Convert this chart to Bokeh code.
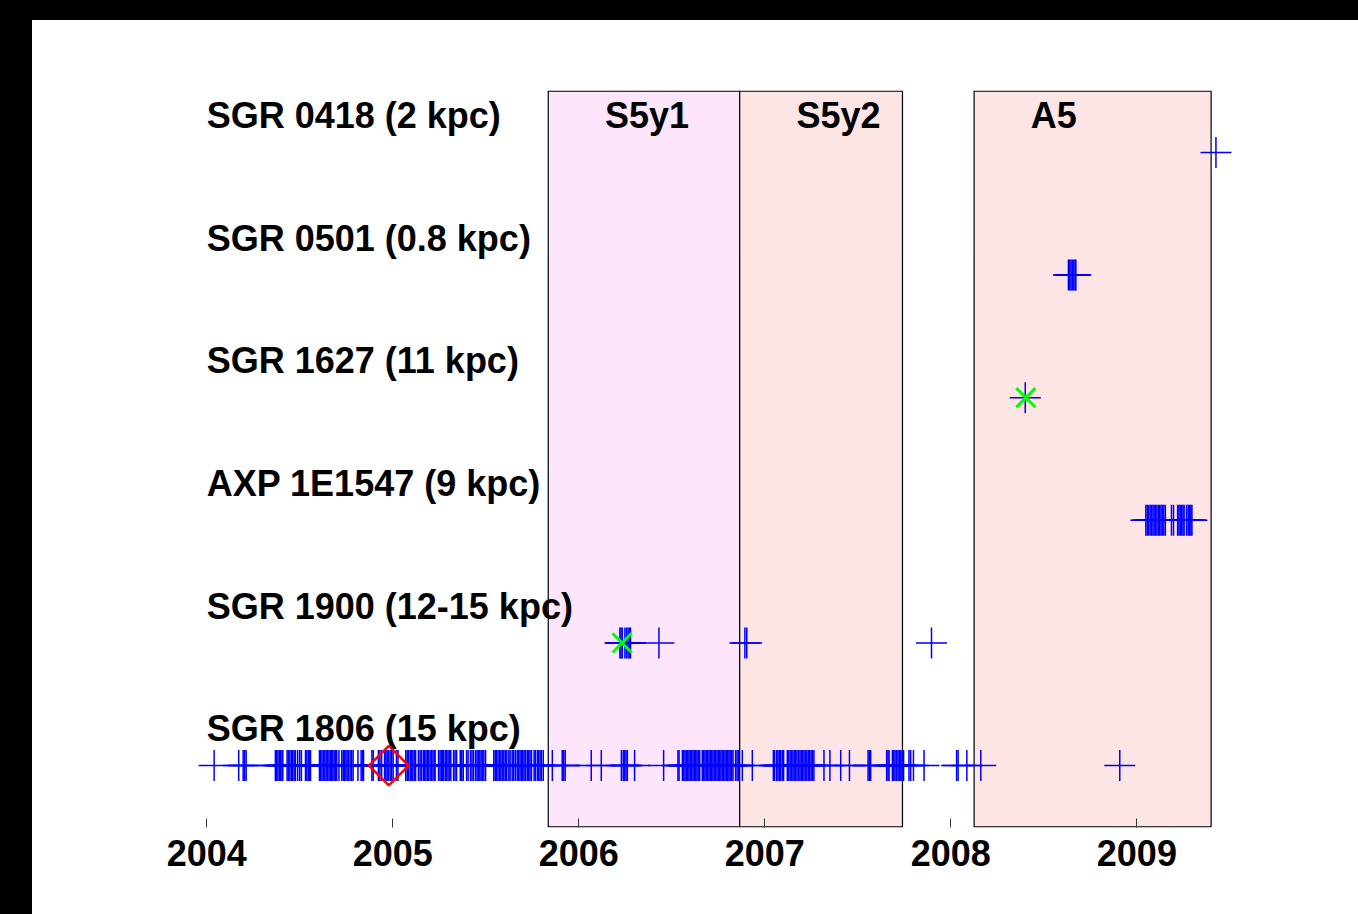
import numpy as np
from bokeh.plotting import figure
from bokeh.models import Range1d, FixedTicker, Div
from bokeh.layouts import column, row
from bokeh.core.properties import value
from bokeh.embed import file_html
from bokeh.resources import INLINE

# ---------------- data ----------------
source_labels = ["SGR 0418 (2 kpc)", "SGR 0501 (0.8 kpc)", "SGR 1627 (11 kpc)",
                 "AXP 1E1547 (9 kpc)", "SGR 1900 (12-15 kpc)", "SGR 1806 (15 kpc)"]
source_rows = [6, 5, 4, 3, 2, 1]

sgr0418_bursts = [2009.425]

sgr0501_bursts = [2008.632, 2008.639, 2008.646, 2008.653, 2008.661, 2008.668, 2008.672]

sgr1627_bursts = [2008.400]

axp1547_bursts = [2009.048, 2009.056, 2009.063, 2009.071, 2009.078, 2009.086, 2009.093,
                  2009.101, 2009.108, 2009.116, 2009.123, 2009.130, 2009.138, 2009.145,
                  2009.153, 2009.186, 2009.197, 2009.219, 2009.226, 2009.233, 2009.241,
                  2009.248, 2009.254, 2009.267, 2009.276, 2009.283, 2009.290, 2009.296]

sgr1900_bursts = [2006.221, 2006.227, 2006.234, 2006.248, 2006.257, 2006.265, 2006.273,
                  2006.278, 2006.431, 2006.893, 2006.903, 2007.896]

sgr1806_bursts = [
    2004.040, 2004.172, 2004.196, 2004.204, 2004.212,
    2004.369, 2004.376, 2004.383, 2004.391, 2004.398, 2004.405, 2004.409,
    2004.432, 2004.439, 2004.447, 2004.455, 2004.462, 2004.470, 2004.477,
    2004.489, 2004.500, 2004.509,
    2004.531, 2004.538, 2004.546, 2004.553, 2004.558,
    2004.606, 2004.613, 2004.620, 2004.628, 2004.635, 2004.642, 2004.649, 2004.657,
    2004.664, 2004.671, 2004.678, 2004.685, 2004.692, 2004.699, 2004.711,
    2004.726, 2004.734, 2004.741, 2004.748, 2004.755, 2004.762,
    2004.771, 2004.779, 2004.787, 2004.813, 2004.830, 2004.837, 2004.843,
    2004.888, 2004.895, 2004.923, 2004.931, 2004.940,
    2004.956, 2004.963, 2004.970, 2004.977, 2004.986, 2004.994, 2005.002,
    2005.020, 2005.028,
    2005.070, 2005.078, 2005.085, 2005.094, 2005.101, 2005.108, 2005.116, 2005.123,
    2005.138, 2005.147, 2005.155,
    2005.165, 2005.172, 2005.179, 2005.187, 2005.192,
    2005.201, 2005.208, 2005.216, 2005.223, 2005.228,
    2005.246, 2005.254, 2005.261, 2005.269, 2005.273,
    2005.282, 2005.289, 2005.297, 2005.304, 2005.312,
    2005.327, 2005.335, 2005.343, 2005.363, 2005.371, 2005.379,
    2005.397, 2005.405, 2005.418, 2005.426, 2005.434,
    2005.445, 2005.453, 2005.460, 2005.468, 2005.475, 2005.483, 2005.490, 2005.499,
    2005.543, 2005.551, 2005.558, 2005.566, 2005.574, 2005.581, 2005.589,
    2005.597, 2005.605, 2005.613, 2005.624, 2005.631,
    2005.642, 2005.650, 2005.659,
    2005.669, 2005.676, 2005.684, 2005.691, 2005.699, 2005.706, 2005.714,
    2005.723, 2005.731, 2005.738, 2005.746, 2005.760, 2005.766,
    2005.777, 2005.784, 2005.792, 2005.799, 2005.809,
    2005.858, 2005.911, 2005.919, 2005.927,
    2006.067, 2006.121, 2006.229, 2006.239, 2006.246, 2006.254, 2006.261, 2006.300,
    2006.456, 2006.533, 2006.539,
    2006.557, 2006.564, 2006.571, 2006.578, 2006.585, 2006.592, 2006.599, 2006.607,
    2006.614, 2006.621, 2006.628, 2006.635, 2006.642, 2006.650,
    2006.664, 2006.671, 2006.678, 2006.685, 2006.693, 2006.700, 2006.707, 2006.714,
    2006.721, 2006.728, 2006.736, 2006.743, 2006.750, 2006.757, 2006.764, 2006.771,
    2006.779, 2006.786, 2006.793, 2006.800, 2006.807, 2006.814, 2006.822, 2006.829,
    2006.843, 2006.851, 2006.859, 2006.879, 2006.933,
    2007.046, 2007.053, 2007.064, 2007.071, 2007.079, 2007.085, 2007.094, 2007.101,
    2007.121, 2007.128, 2007.136, 2007.143, 2007.151, 2007.158, 2007.166, 2007.173,
    2007.181, 2007.189, 2007.196, 2007.204, 2007.211, 2007.219, 2007.226, 2007.234,
    2007.241, 2007.249, 2007.256, 2007.264,
    2007.318, 2007.350, 2007.408, 2007.455,
    2007.555, 2007.562, 2007.569, 2007.655, 2007.662, 2007.668,
    2007.686, 2007.693, 2007.700, 2007.708, 2007.716, 2007.723, 2007.731, 2007.738, 2007.746,
    2007.775, 2007.784, 2007.799, 2007.856,
    2008.031, 2008.039, 2008.086, 2008.161, 2008.908,
]

giant_flare_time = [2004.979]
giant_flare_row = [1]

green_times = [2006.233, 2008.403]
green_rows = [2, 4]

run_names = ["S5y1", "S5y2", "A5"]
run_start = [2005.836, 2006.865, 2008.125]
run_end = [2006.865, 2007.740, 2009.399]

year_ticks = [2004, 2005, 2006, 2007, 2008, 2009]

# ---------------- styles ----------------
run_colors = ["#fde6fc", "#fde5e5", "#fde5e5"]
FONT = value("Liberation Sans")
LABEL_LIFT = 0.30        # label baseline above marker row (data units)
RUN_LABEL_SHIFT = 0.305  # run label offset from run start (years)

burst_lists = [sgr0418_bursts, sgr0501_bursts, sgr1627_bursts,
               axp1547_bursts, sgr1900_bursts, sgr1806_bursts]
bx, by = [], []
for times, r in zip(burst_lists, source_rows):
    bx.extend(times)
    by.extend([r] * len(times))

p = figure(width=1326, height=894,
           x_range=Range1d(2003.8, 2009.6), y_range=Range1d(0.495, 6.505),
           output_backend="svg", toolbar_location=None,
           y_axis_location=None,
           min_border_left=137, min_border_right=110,
           min_border_top=70, min_border_bottom=87)
p.outline_line_color = None
p.grid.visible = False
p.background_fill_color = "white"
p.border_fill_color = "white"

# observing runs
p.quad(left=run_start, right=run_end, bottom=0.5, top=6.5,
       fill_color=run_colors, line_color="black", line_width=1.2)

# run labels
p.text(x=[s + RUN_LABEL_SHIFT for s in run_start],
       y=[max(source_rows) + LABEL_LIFT] * len(run_names), text=run_names,
       text_font=FONT, text_font_style="bold", text_font_size="36px",
       text_align="left", text_baseline="alphabetic", text_color="black")

# source labels
p.text(x=[year_ticks[0]] * len(source_labels),
       y=[r + LABEL_LIFT for r in source_rows], text=source_labels,
       text_font=FONT, text_font_style="bold", text_font_size="36px",
       text_align="left", text_baseline="alphabetic", text_color="black")

# bursts
p.scatter(x=bx, y=by, marker="cross", size=31,
          line_color="#0000ff", line_width=1.5)

# giant flare
p.scatter(x=giant_flare_time, y=giant_flare_row, marker="square", angle=np.pi / 4,
          size=28, fill_color=None, line_color="#ff0000", line_width=2.5)

# green markers
p.scatter(x=green_times, y=green_rows, marker="x", size=27,
          line_color="#00ff00", line_width=3)

ax = p.xaxis[0]
ax.ticker = FixedTicker(ticks=year_ticks)
ax.axis_line_color = None
ax.major_tick_in = 9
ax.major_tick_out = 0
ax.major_tick_line_color = "#333333"
ax.major_tick_line_width = 1
ax.minor_tick_line_color = None
ax.major_label_text_font = "Liberation Sans"
ax.major_label_text_font_style = "bold"
ax.major_label_text_font_size = "36px"
ax.major_label_text_color = "black"
ax.major_label_standoff = 12

top_bar = Div(width=1358, height=20, styles={"background-color": "black"}, margin=0)
left_bar = Div(width=32, height=894, styles={"background-color": "black"}, margin=0)
layout = column(top_bar, row(left_bar, p, spacing=0), spacing=0)

open("out.html", "w").write(file_html(layout, INLINE))
